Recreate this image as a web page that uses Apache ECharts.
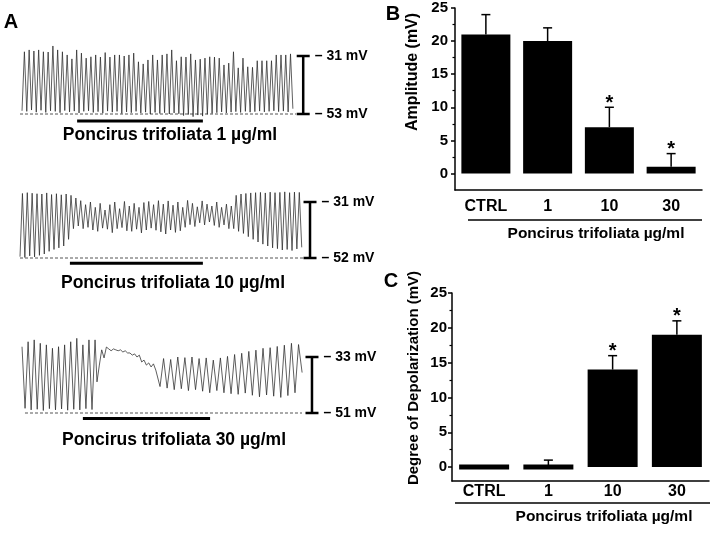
<!DOCTYPE html>
<html><head><meta charset="utf-8">
<script src="https://cdn.jsdelivr.net/npm/echarts@6/dist/echarts.min.js"></script>
<style>html,body{margin:0;padding:0;background:#fff}#c{width:714px;height:534px}</style>
</head><body><div id="c"></div>
<script>
// ---------- Panel A: membrane potential traces (mV) ----------
// Trace 1 (1 µg/ml): troughs and spike peaks, alternating
const trace1Troughs = [-51.8,-52.0,-51.5,-52.3,-51.6,-52.4,-51.8,-52.0,-52.5,-51.7,
  -52.2,-51.9,-52.6,-52.0,-51.8,-52.4,-52.1,-52.7,-51.9,-52.3,
  -52.0,-52.8,-52.2,-52.5,-52.0,-52.6,-52.3,-53.0,-52.4,-52.8,
  -52.5,-53.0,-52.6,-52.9,-53.6,-53.2,-54.0,-53.4,-53.8,-53.1,
  -52.8,-52.5,-52.2,-52.6,-52.3,-52.1,-52.4,-52.0,-52.3,-52.1,
  -51.9,-52.2,-52.0,-51.8,-52.1,-51.9,-52.2,-51.0];
const trace1Peaks = [-29.4,-28.7,-29.1,-28.7,-29.4,-29.5,-27.2,-28.7,-29.4,-30.6,
  -32.1,-28.7,-29.9,-31.8,-31.3,-30.6,-31.4,-29.7,-31.4,-30.6,
  -30.6,-31.0,-30.6,-29.9,-33.2,-34.0,-32.5,-30.6,-32.5,-30.6,
  -30.2,-28.7,-32.8,-31.3,-31.4,-30.2,-32.5,-32.2,-31.8,-31.3,
  -31.4,-31.8,-34.4,-33.7,-29.4,-35.5,-31.8,-35.1,-35.3,-32.8,
  -32.8,-32.8,-32.8,-30.6,-30.6,-30.6,-30.2];
// Trace 2 (10 µg/ml)
const trace2Troughs = [-51.5,-51.8,-51.2,-51.6,-51.0,-50.5,-49.5,-48.8,-48.2,-47.5,
  -45.0,-41.0,
  -40.0,-41.0,-40.5,-41.5,-42.0,-40.8,-41.2,-42.5,-41.0,-40.6,-41.8,-42.0,-41.2,-42.6,-41.5,-40.8,
  -41.6,-42.2,-43.0,-41.5,-42.4,-41.8,-40.5,-39.5,-40.2,-38.8,-39.6,-38.5,-39.8,-40.5,-39.6,-41.0,
  -41.0,-42.0,-42.8,-44.0,-45.0,-46.0,-46.8,-47.5,-48.2,-48.5,-49.0,-48.8,-49.2,-48.6,-48.0];
const trace2Peaks = [-27.8,-27.5,-27.7,-27.9,-28.0,-27.6,-28.2,-27.9,-28.3,-28.0,
  -28.5,-29.5,
  -30.5,-32.0,-31.0,-33.0,-31.5,-34.0,-32.0,-31.0,-33.5,-30.8,-32.5,-31.5,-33.0,-31.2,-30.8,-32.0,
  -30.5,-31.8,-30.6,-32.2,-31.0,-33.0,-30.4,-31.5,-32.8,-30.6,-31.8,-32.5,-31.0,-33.0,-31.8,-32.5,
  -28.5,-28.0,-27.8,-27.6,-27.5,-27.4,-27.6,-27.3,-27.5,-27.4,-27.2,-27.5,-27.3,-27.4];
// Trace 3 (30 µg/ml): control spikes, depolarized plateau, oscillations
const trace3Peaks = [-29.7,-28.1,-27.5,-28.6,-29.1,-30.2,-29.7,-29.1,-28.1,-27.0,-29.1,-27.5,-27.5];
const trace3Troughs = [-49.5,-50.0,-49.8,-50.2,-49.6,-50.0,-49.7,-50.1,-49.8,-50.0,-49.6,-49.9];
const trace3Plateau = [-41.0,-35.6,-30.7,-33.3,-29.8,-30.4,-31.0,-30.4,-30.7,-31.0,-30.7,-31.4,-31.0,
  -31.7,-31.7,-32.4,-32.0,-33.0,-32.4,-34.6,-34.0,-35.6,-34.9,-36.2,-35.2,-37.2];
const trace3OscTroughs = [-42.5,-43.0,-43.5,-43.2,-43.8,-43.5,-44.0,-44.5,-43.8,-44.5,
  -44.8,-45.0,-44.6,-45.3,-45.8,-45.2,-45.6,-46.0,-45.4,-44.5];
const trace3OscPeaks = [-33.5,-33.8,-33.0,-33.2,-33.0,-33.5,-33.3,-34.0,-33.3,-32.8,
  -32.2,-31.8,-31.2,-30.8,-30.2,-30.0,-29.6,-29.2,-28.6,-29.0];
const trace3End = [-38.0];

// recording timing (arbitrary time units)
const trace1Timing = {t0: 0.42, dt: 0.495};
const trace2Timing = {t0: 0.0, dt: 0.506};
const trace3Timing = {spikes: {t0: 0.42, dt: 0.634}, plateau: {t0: 16.04, dt: 0.49}, osc: {t0: 29.17, dt: 0.74}};

// annotations per trace
const traceLabels = ['Poncirus trifoliata 1 µg/ml', 'Poncirus trifoliata 10 µg/ml', 'Poncirus trifoliata 30 µg/ml'];
const scaleTop = [-31, -31, -33];
const scaleBottom = [-53, -52, -51];
const scaleTopLabels = ['– 31 mV', '– 31 mV', '– 33 mV'];
const scaleBottomLabels = ['– 53 mV', '– 52 mV', '– 51 mV'];
const scaleTime = [59.0, 60.42, 60.83];
const baselineRange = [[0, 57.5], [0, 59.4], [1.04, 58.75]];
const drugRange = [[11.9, 38.1], [10.4, 38.1], [13.1, 39.6]];
const drugLevel = [-55.7, -54.0, -52.8];

// ---------- Panel B / C: bar charts ----------
const categories = ['CTRL', '1', '10', '30'];
const amplitude = [21, 20, 7, 1];
const amplitudeErr = [3, 2, 3, 2];
const amplitudeSig = [0, 0, 1, 1];
const depol = [0, 0, 14, 19];
const depolErr = [0, 1, 2, 2];
const depolSig = [0, 0, 1, 1];
const majorTicks = [0, 5, 10, 15, 20, 25];
const minorTicks = [2.5, 7.5, 12.5, 17.5, 22.5];
const xTitle = 'Poncirus trifoliata µg/ml';

// ---------- build ----------
function interleave(a, b) {
  const out = [];
  const n = Math.max(a.length, b.length);
  for (let i = 0; i < n; i++) { if (i < a.length) out.push(a[i]); if (i < b.length) out.push(b[i]); }
  return out;
}
function place(values, timing) { return values.map((v, i) => [timing.t0 + i * timing.dt, v]); }

const trace1 = place(interleave(trace1Troughs, trace1Peaks), trace1Timing);
const trace2 = place(interleave(trace2Troughs, trace2Peaks), trace2Timing);
const trace3 = place(interleave(trace3Peaks, trace3Troughs), trace3Timing.spikes)
  .concat(place(trace3Plateau, trace3Timing.plateau))
  .concat(place(interleave(trace3OscTroughs, trace3OscPeaks).concat(trace3End), trace3Timing.osc));
const traces = [trace1, trace2, trace3];

const FONT = '"Liberation Sans", Arial, sans-serif';
const T_MAX = 62;
const traceGrids = [
  {left: 20, width: 297.6, top: 56, height: 58},
  {left: 20, width: 297.6, top: 202, height: 56},
  {left: 20, width: 297.6, top: 357, height: 56}
];

const grid = traceGrids.concat([
  {left: 455, top: 8, width: 247, height: 182},
  {left: 452, top: 293, width: 257, height: 188}
]);
const xAxis = [], yAxis = [], series = [];

traces.forEach((tr, i) => {
  xAxis.push({type: 'value', gridIndex: i, min: 0, max: T_MAX, show: false});
  yAxis.push({type: 'value', gridIndex: i, min: scaleBottom[i], max: scaleTop[i], show: false});
  series.push({type: 'line', xAxisIndex: i, yAxisIndex: i, data: tr, showSymbol: false, clip: false,
    lineStyle: {color: '#2a2a2a', width: 0.75}, z: 3});
  series.push({type: 'line', xAxisIndex: i, yAxisIndex: i, clip: false, showSymbol: false,
    data: [[baselineRange[i][0], scaleBottom[i]], [baselineRange[i][1], scaleBottom[i]]],
    lineStyle: {color: '#555', width: 1, type: [3, 2]}, z: 2});
  series.push({type: 'line', xAxisIndex: i, yAxisIndex: i, clip: false, showSymbol: false,
    data: [[drugRange[i][0], drugLevel[i]], [drugRange[i][1], drugLevel[i]]],
    lineStyle: {color: '#000', width: 3}});
  series.push({type: 'line', xAxisIndex: i, yAxisIndex: i, clip: false, showSymbol: true,
    symbol: 'rect', symbolSize: [13, 2.5], itemStyle: {color: '#000'},
    data: [[scaleTime[i], scaleTop[i]], [scaleTime[i], scaleBottom[i]]],
    lineStyle: {color: '#000', width: 2.5},
    label: {show: true, position: 'right', distance: 5, color: '#000', fontFamily: FONT, fontWeight: 'bold', fontSize: 14,
      formatter: p => p.dataIndex === 0 ? scaleTopLabels[i] : scaleBottomLabels[i]}});
});

function barPanel(gi, vals, errs, sigs, minV, labelMargin, ylabMargin, barWidth, border) {
  const xi = xAxis.length, yi = yAxis.length;
  xAxis.push({type: 'category', gridIndex: gi, data: categories,
    axisLine: {onZero: false, lineStyle: {color: '#000', width: 1.5}},
    axisTick: {alignWithLabel: true, length: 4, lineStyle: {color: '#000', width: 1.5}},
    axisLabel: {margin: labelMargin, color: '#000', fontFamily: FONT, fontWeight: 'bold', fontSize: 16}});
  xAxis.push({type: 'category', gridIndex: gi, data: categories,
    axisLine: {show: false}, axisTick: {length: 3, lineStyle: {color: '#000', width: 1.2}}, axisLabel: {show: false}});
  yAxis.push({type: 'value', gridIndex: gi, min: minV, max: 25, interval: 0.5, position: 'left',
    axisLine: {show: true, lineStyle: {color: '#000', width: 1.5}},
    axisTick: {show: true, customValues: majorTicks, length: 4, lineStyle: {color: '#000', width: 1.5}},
    axisLabel: {customValues: majorTicks, margin: ylabMargin, color: '#000', fontFamily: FONT, fontWeight: 'bold', fontSize: 15},
    splitLine: {show: false}});
  yAxis.push({type: 'value', gridIndex: gi, min: minV, max: 25, interval: 0.5, position: 'left',
    axisLine: {show: false},
    axisTick: {show: true, customValues: minorTicks, length: 2.5, lineStyle: {color: '#000', width: 1.2}},
    axisLabel: {show: false}, splitLine: {show: false}});
  series.push({type: 'bar', xAxisIndex: xi, yAxisIndex: yi, data: vals, barWidth: barWidth,
    itemStyle: {color: '#000', borderColor: '#000', borderWidth: border}});
  series.push({type: 'custom', xAxisIndex: xi, yAxisIndex: yi, z: 5,
    data: vals.map((v, k) => [k, v, errs[k], sigs[k]]),
    renderItem: (params, api) => {
      const c = api.value(0), v = api.value(1), e = api.value(2), s = api.value(3);
      const b = api.coord([c, v]);
      const t = api.coord([c, v + e]);
      const kids = [];
      if (e > 0) {
        kids.push({type: 'line', shape: {x1: b[0], y1: b[1], x2: t[0], y2: t[1]}, style: {stroke: '#000', lineWidth: 1.5}});
        kids.push({type: 'line', shape: {x1: t[0] - 4.5, y1: t[1], x2: t[0] + 4.5, y2: t[1]}, style: {stroke: '#000', lineWidth: 1.5}});
      }
      if (s) kids.push({type: 'text', x: t[0], y: t[1] - 4,
        style: {text: '*', font: 'bold 20px ' + FONT, align: 'center', verticalAlign: 'middle', fill: '#000'}});
      return {type: 'group', children: kids};
    }});
}
barPanel(3, amplitude, amplitudeErr, amplitudeSig, -2.5, 9, 7, 49, 0);
barPanel(4, depol, depolErr, depolSig, -2, 3, 5, 50, 5);

const txt = (x, y, text, size, extra) => Object.assign({type: 'text', x: x, y: y,
  style: {text: text, font: 'bold ' + size + 'px ' + FONT, fill: '#000', align: 'center', verticalAlign: 'middle'}}, extra || {});

const graphic = [
  txt(11, 22, 'A', 20),
  txt(393, 14, 'B', 20),
  txt(391, 281, 'C', 20),
  txt(170, 135, traceLabels[0], 17.5),
  txt(173, 283, traceLabels[1], 17.5),
  txt(174, 440, traceLabels[2], 17.5),
  txt(596, 234, xTitle, 15.5),
  txt(604, 517, xTitle, 15.5),
  txt(413, 72, 'Amplitude (mV)', 16, {rotation: Math.PI / 2}),
  txt(414, 378, 'Degree of Depolarization (mV)', 15, {rotation: Math.PI / 2}),
  {type: 'line', shape: {x1: 468, y1: 220, x2: 702, y2: 220}, style: {stroke: '#000', lineWidth: 1.5}},
  {type: 'line', shape: {x1: 455, y1: 503, x2: 710, y2: 503}, style: {stroke: '#000', lineWidth: 1.5}}
];

const chart = echarts.init(document.getElementById('c'), null, {renderer: 'canvas'});
chart.setOption({animation: false, backgroundColor: '#fff', grid, xAxis, yAxis, series, graphic});
</script></body></html>
